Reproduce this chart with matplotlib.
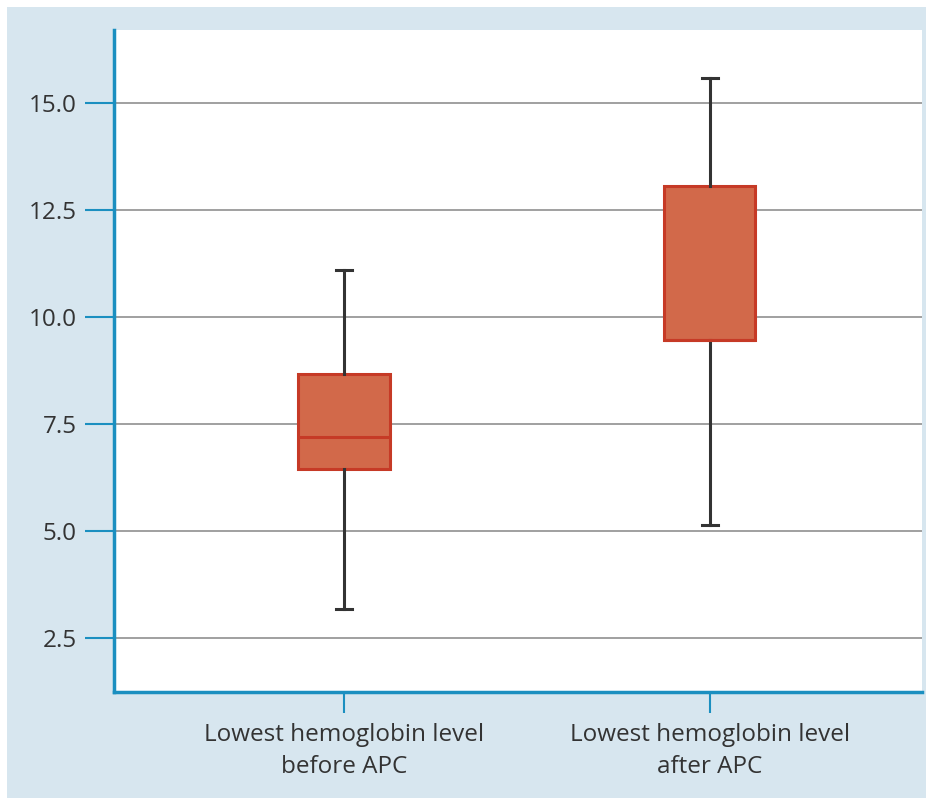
import matplotlib
matplotlib.use("Agg")
import matplotlib.pyplot as plt
from matplotlib.patches import Rectangle

categories = ["Lowest hemoglobin level\nbefore APC", "Lowest hemoglobin level\nafter APC"]
whislo = [3.18, 5.14]
q1 = [6.45, 9.46]
med = [7.2, 9.46]
q3 = [8.67, 13.06]
whishi = [11.1, 15.58]
yticks = [2.5, 5.0, 7.5, 10.0, 12.5, 15.0]

W, H = 926, 798
fig = plt.figure(figsize=(W / 100, H / 100), dpi=100)
fig.patch.set_facecolor("white")
bg = "#d7e6ef"
fig.patches.append(Rectangle((7 / W, 0), 1 - 7 / W, 1 - 7 / H, transform=fig.transFigure,
                             facecolor=bg, edgecolor="none", zorder=-10))

ax = fig.add_axes([114 / W, 1 - 692 / H, (922 - 114) / W, (692 - 30) / H])
ax.set_facecolor("white")

stats = []
for i in range(len(categories)):
    stats.append(dict(whislo=whislo[i], q1=q1[i], med=med[i], q3=q3[i], whishi=whishi[i], fliers=[]))

edge = "#c63a26"
fill = "#d2694a"
bp = ax.bxp(stats, positions=[1, 2], widths=0.25, patch_artist=True, showfliers=False,
            boxprops=dict(facecolor=fill, edgecolor=edge, linewidth=2.2),
            medianprops=dict(color=edge, linewidth=2.2),
            whiskerprops=dict(color="#333333", linewidth=2.2),
            capprops=dict(color="#333333", linewidth=2.2),
            capwidths=0.044, zorder=3)

ax.set_xlim(0.372, 2.58)
ax.set_ylim(1.24, 16.7)
ax.set_yticks(yticks)
ax.set_yticklabels([f"{v:.1f}" for v in yticks])
ax.set_xticks([1, 2])
ax.set_xticklabels(categories, linespacing=1.45)

ax.yaxis.grid(True, color="#999999", linewidth=1.3, zorder=0)
ax.set_axisbelow(True)

spine_c = "#1b8fc0"
for s in ["top", "right"]:
    ax.spines[s].set_visible(False)
for s in ["left", "bottom"]:
    ax.spines[s].set_color(spine_c)
    ax.spines[s].set_linewidth(2.5)

ax.tick_params(axis="y", length=21, width=1.5, color=spine_c, pad=6,
               labelsize=17.5, labelcolor="#333333")
ax.tick_params(axis="x", length=15, width=1.5, color=spine_c, pad=7.5,
               labelsize=17.5, labelcolor="#333333")
for lab in ax.get_xticklabels() + ax.get_yticklabels():
    lab.set_family(["Open Sans", "DejaVu Sans"])

fig.savefig("out.png", dpi=100, facecolor=fig.get_facecolor())
